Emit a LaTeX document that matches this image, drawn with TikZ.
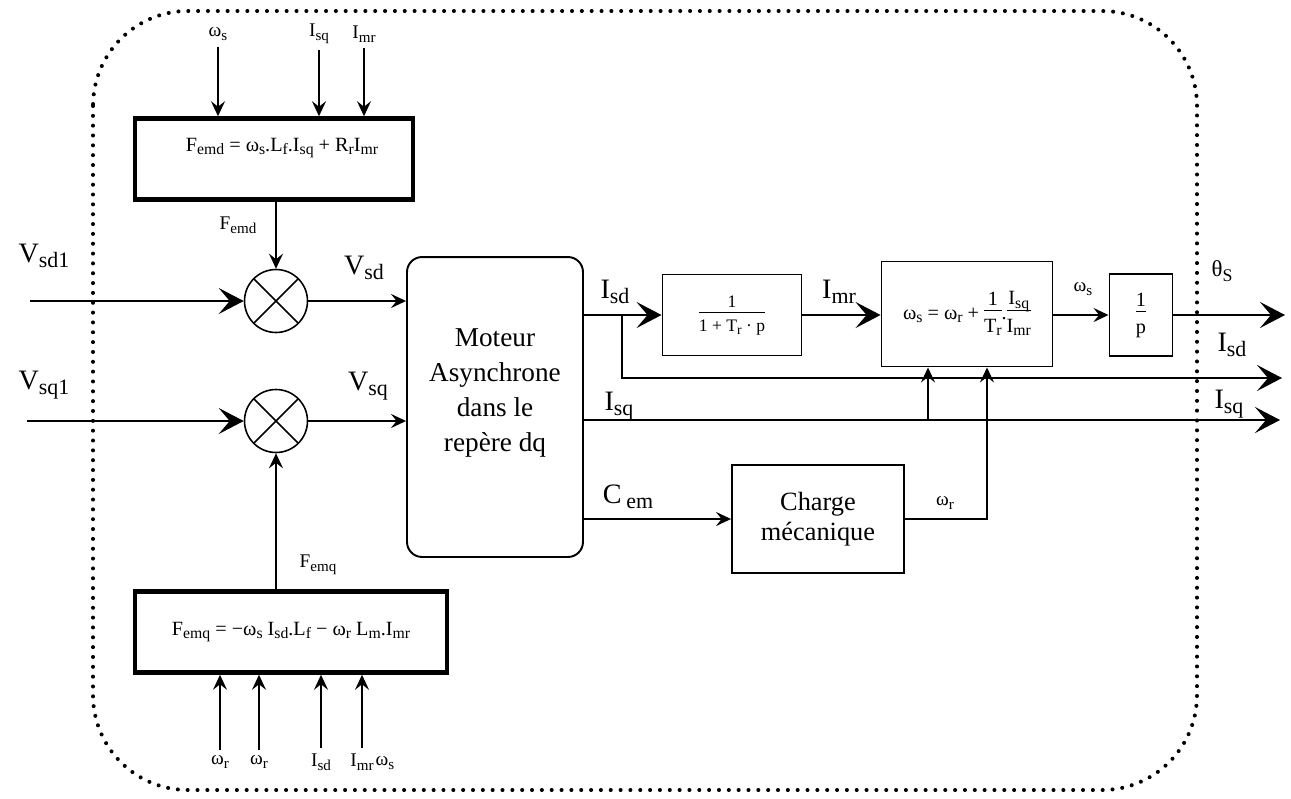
\documentclass[tikz,border=0pt]{standalone}
\usepackage{fontspec}
\usepackage{graphicx}
\setmainfont{Liberation Serif}
\usetikzlibrary{arrows.meta}

\newcommand{\sbs}[1]{\raisebox{-0.4ex}{\scalebox{0.78}{#1}}}
\newcommand{\fracbox}[2]{\begin{tabular}{@{}c@{}}#1\\[-1pt]\hline\rule{0pt}{1.05em}#2\end{tabular}}

\tikzset{
  blk/.style={draw, line width=1.1pt, inner sep=0pt},
  thickblk/.style={draw, line width=2.6pt, inner sep=0pt},
  summer/.style={draw, circle, line width=0.9pt, minimum size=1.26cm, inner sep=0pt,
    path picture={\draw[line width=0.9pt]
      (path picture bounding box.north west) -- (path picture bounding box.south east)
      (path picture bounding box.north east) -- (path picture bounding box.south west);}},
  sig/.style={line width=1.1pt, -{Stealth[length=3mm,width=2.8mm,inset=1.1mm]}},
  bigsig/.style={line width=1.5pt, -{Stealth[length=5mm,width=5.2mm,inset=2.2mm]}},
  biglbl/.style={font=\fontsize{16}{19}\selectfont},
  lbl/.style={font=\fontsize{16}{19}\selectfont},
  smlbl/.style={font=\fontsize{11}{13}\selectfont},
  eq/.style={font=\fontsize{11.5}{13}\selectfont},
  frame/.style={line width=2.3pt, line cap=round, dash pattern=on 0pt off 5.6pt, rounded corners=1.9cm},
}

\begin{document}
\begin{tikzpicture}[x=0.02cm,y=-0.02cm]
\useasboundingbox (0,0) rectangle (1291,798);

% cadre
\draw[frame] (93,11) rectangle (1197,790);

% blocs de decouplage
\node[thickblk, minimum width=5.56cm, minimum height=1.62cm] (femd) at (274,159) {};
\node[eq] (femdeq) at (282,148) {F\sbs{emd} = ω\sbs{s}.L\sbs{f}.I\sbs{sq} + R\sbs{r}I\sbs{mr}};
\node[thickblk, minimum width=6.24cm, minimum height=1.62cm, eq] (femq) at (291,632)
  {F\sbs{emq} = −ω\sbs{s} I\sbs{sd}.L\sbs{f} − ω\sbs{r} L\sbs{m}.I\sbs{mr}};

% sommateurs
\node[summer] (s1) at (276,301) {};
\node[summer] (s2) at (276,421) {};

% moteur
\node[blk, rounded corners=0.3cm, minimum width=3.52cm, minimum height=6cm] (mot) at (495,407) {};
\node[align=center, font=\fontsize{15.5}{20}\selectfont] (mottxt) at (495,393) {Moteur\\Asynchrone\\dans le\\repère dq};

% blocs de droite
\node[blk, minimum width=2.78cm, minimum height=1.62cm, eq, font=\fontsize{10}{12}\selectfont] (lag) at (732,315) {\fracbox{1}{1 + T\sbs{r} · p}};
\node[blk, minimum width=3.42cm, minimum height=2.1cm, eq] (wsblk) at (967,314)
  {ω\sbs{s} = ω\sbs{r} + \fracbox{1}{T\sbs{r}}.\fracbox{I\sbs{sq}}{I\sbs{mr}}};
\node[blk, minimum width=1.26cm, minimum height=1.64cm, eq] (integ) at (1141,315) {\fracbox{1}{p}};
\node[blk, minimum width=3.44cm, minimum height=2.16cm, align=center, font=\fontsize{15}{17}\selectfont] (charge) at (818,519) {Charge\\mécanique};

% entrees du bloc F_emd
\node[smlbl] (tws) at (218,34) {ω\sbs{s}};
\node[smlbl] (tisq) at (319,34) {I\sbs{sq}};
\node[smlbl] (timr) at (364,34) {I\sbs{mr}};
\draw[sig] (tws.south) -- (tws.south |- femd.north);
\draw[sig] (tisq.south) -- (tisq.south |- femd.north);
\draw[sig] (timr.south) -- (timr.south |- femd.north);

% entrees du bloc F_emq
\node[smlbl] (bwr1) at (220,762) {ω\sbs{r}};
\node[smlbl] (bwr2) at (259,762) {ω\sbs{r}};
\node[smlbl] (bisd) at (321,762) {I\sbs{sd}};
\node[smlbl] (bimr) at (362,762) {I\sbs{mr}};
\node[smlbl] (bws) at (385,763) {ω\sbs{s}};
\draw[sig] (bwr1.north) -- (bwr1.north |- femq.south);
\draw[sig] (bwr2.north) -- (bwr2.north |- femq.south);
\draw[sig] (bisd.north) -- (bisd.north |- femq.south);
\draw[sig] (bimr.north) -- (bimr.north |- femq.south);

% sommateurs
\node[smlbl] at (238,225) {F\sbs{emd}};
\node[smlbl] at (318,565) {F\sbs{emq}};
\draw[sig] (femd.south -| s1.north) -- (s1.north);
\draw[sig] (femq.north -| s2.south) -- (s2.south);

\node[biglbl] (vsd1) at (44,256) {V\sbs{sd1}};
\node[biglbl] (vsq1) at (44,385) {V\sbs{sq1}};
\coordinate (in1) at (30,301);
\coordinate (in2) at (27,421);
\draw[bigsig] (in1) -- (s1.west);
\draw[bigsig] (in2) -- (s2.west);

\node[lbl] at (364,268) {V\sbs{sd}};
\node[lbl] at (368,386) {V\sbs{sq}};
\draw[sig] (s1.east) -- (s1.east -| mot.west);
\draw[sig] (s2.east) -- (s2.east -| mot.west);

% sorties du moteur
\coordinate (sdtap) at (622,378);
\coordinate (isdout) at (1282,378);
\coordinate (sqtap) at (928,420);
\coordinate (isqout) at (1280,420);
\coordinate (wrcol) at (987,519);
\coordinate (thout) at (1285,315);

\node[lbl] at (615,292) {I\sbs{sd}};
\draw[bigsig] (lag.west -| mot.east) -- (lag.west);
\draw[bigsig] (lag.west -| sdtap) |- (isdout);
\node[lbl] at (1232,345) {I\sbs{sd}};

\node[lbl] at (839,292) {I\sbs{mr}};
\draw[bigsig] (lag.east) -- (lag.east -| wsblk.west);

\node[smlbl] at (1083,289) {ω\sbs{s}};
\draw[sig] (integ.west -| wsblk.east) -- (integ.west);

\node[font=\fontsize{13}{15}\selectfont] at (1222,271) {θ\sbs{S}};
\draw[bigsig] (integ.east) -- (thout);

\node[lbl] at (619,406) {I\sbs{sq}};
\node[lbl] at (1229,404) {I\sbs{sq}};
\draw[bigsig] (mot.east |- isqout) -- (isqout);
\draw[sig] (sqtap) -- (sqtap |- wsblk.south);

\node[lbl] at (628,497) {C\,\sbs{em}};
\draw[sig] (charge.west -| mot.east) -- (charge.west);

\node[smlbl] at (945,503) {ω\sbs{r}};
\draw[sig] (charge.east) -| (wrcol |- wsblk.south);
\end{tikzpicture}
\end{document}
